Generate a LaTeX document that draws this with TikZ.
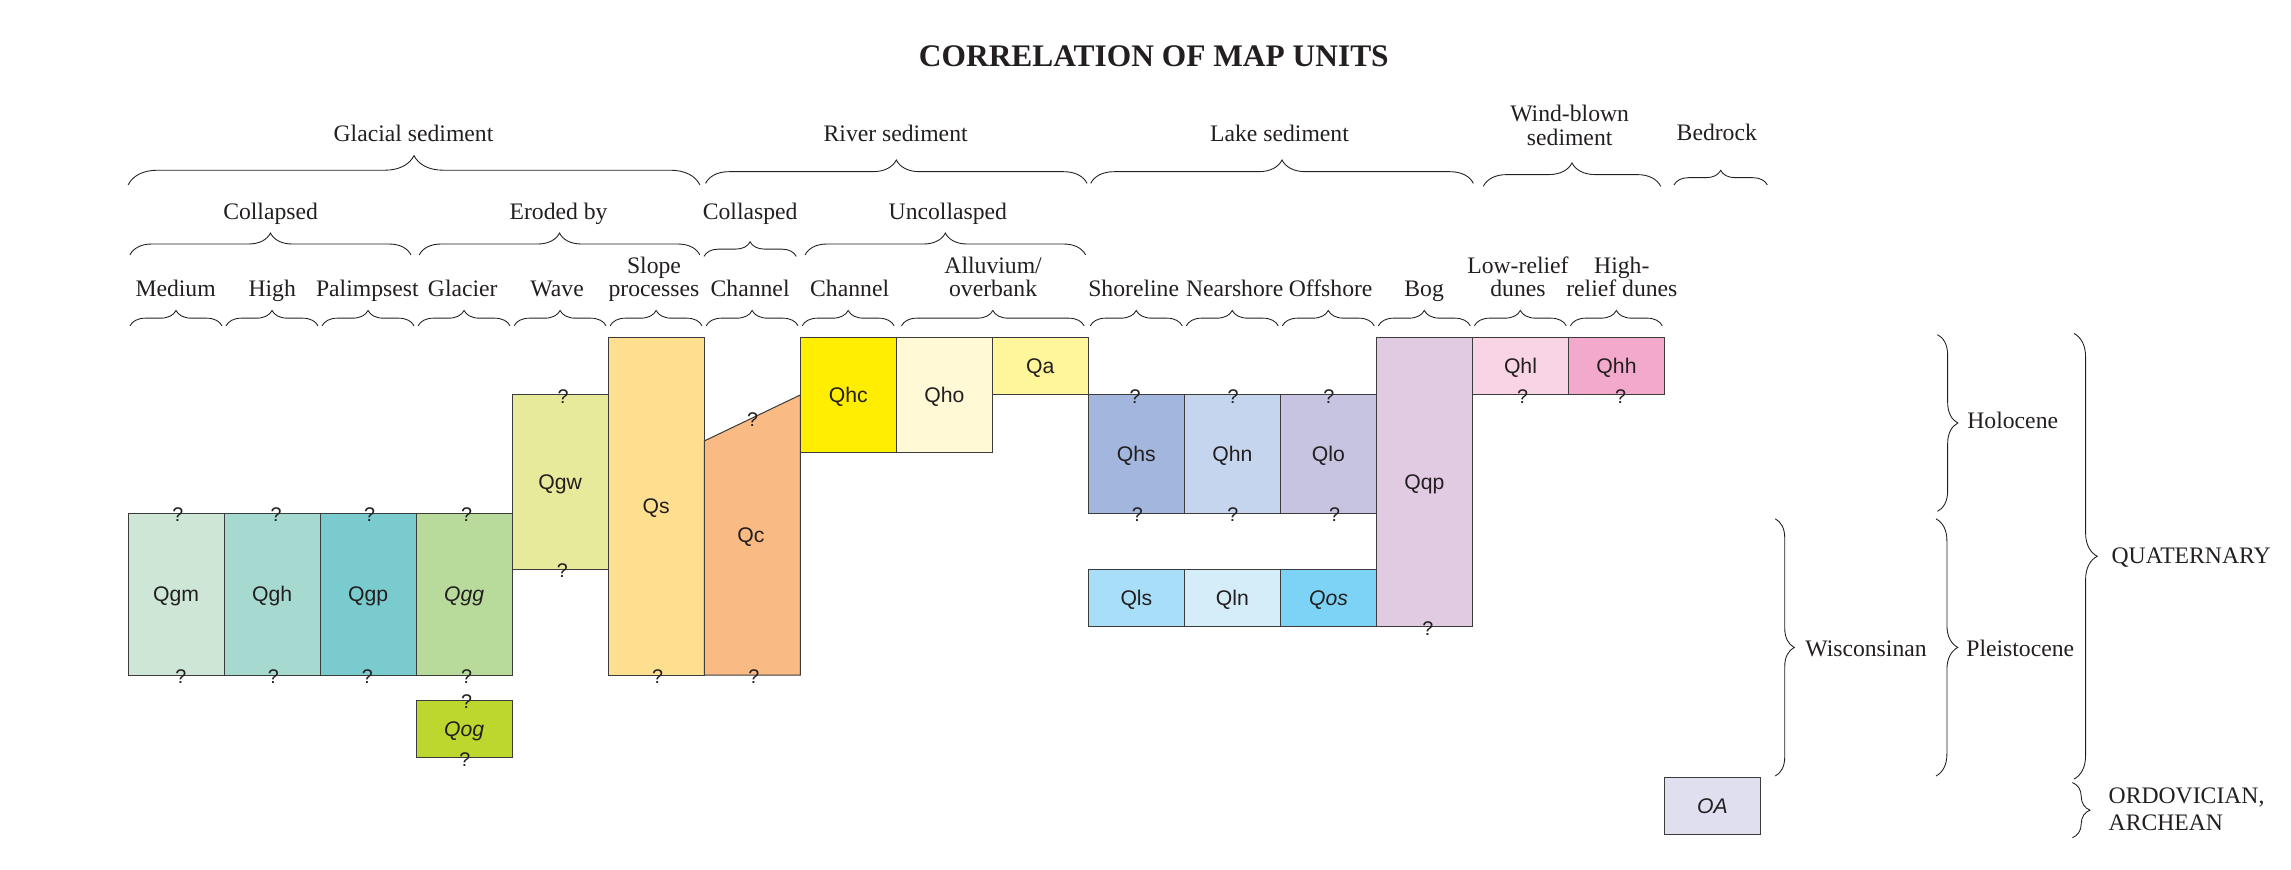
\documentclass[tikz,border=0pt]{standalone}
\usepackage{fontspec}
\setmainfont{Liberation Serif}
\newfontfamily\unitfont{Liberation Sans}
\usetikzlibrary{decorations.pathreplacing}
\definecolor{boxline}{HTML}{3C3C3C}
\definecolor{txt}{HTML}{231F20}
\definecolor{cQgm}{HTML}{CDE6D5}
\definecolor{cQgh}{HTML}{A6DAD1}
\definecolor{cQgp}{HTML}{79CBCE}
\definecolor{cQgg}{HTML}{B8DB9B}
\definecolor{cQog}{HTML}{BED72E}
\definecolor{cQgw}{HTML}{E8EA9B}
\definecolor{cQs}{HTML}{FDDF8F}
\definecolor{cQc}{HTML}{F9BA84}
\definecolor{cQhc}{HTML}{FFEE00}
\definecolor{cQho}{HTML}{FFF9D5}
\definecolor{cQa}{HTML}{FFF59B}
\definecolor{cQhs}{HTML}{A3B6DD}
\definecolor{cQhn}{HTML}{C6D5EE}
\definecolor{cQlo}{HTML}{C7C4E2}
\definecolor{cQqp}{HTML}{E0CBE2}
\definecolor{cQhl}{HTML}{F9D4E5}
\definecolor{cQhh}{HTML}{F2A9CC}
\definecolor{cQls}{HTML}{A9DEF8}
\definecolor{cQln}{HTML}{D5ECF9}
\definecolor{cQos}{HTML}{7DD3F5}
\definecolor{cOA}{HTML}{E0DFF0}
% name, column, top, bottom, fill, label
\newcommand\mapunit[6]{%
  \pgfmathsetmacro\mux{87.7+65.72*#2+32.86}%
  \pgfmathsetmacro\muy{(#3+#4)/2}%
  \pgfmathsetmacro\muh{#4-#3}%
  \node[unitbox, fill=#5, minimum height=\muh pt] (#1) at (\mux,\muy) {#6};%
}
\begin{document}
\begin{tikzpicture}[x=1pt,y=-1pt,
  unitbox/.style={draw=boxline, line width=0.7pt, minimum width=65.72pt, inner sep=0pt,
    text height=10.4pt, text depth=0pt, text=txt,
    font=\unitfont\fontsize{14.5}{16}\selectfont},
  head/.style={anchor=base, inner sep=0pt, text=txt, font=\fontsize{16.2}{17}\selectfont},
  headw/.style={anchor=base west, inner sep=0pt, text=txt, font=\fontsize{16.2}{17}\selectfont},
  qm/.style={inner sep=0pt, text=txt, font=\unitfont\fontsize{13.5}{14}\selectfont},
  brc/.style={decorate, decoration={brace, amplitude=#1}, line width=0.6pt, draw=txt},
]
\useasboundingbox (0,0) rectangle (1568,595);

% title
\node[anchor=base, inner sep=0pt, text=txt, font=\bfseries\fontsize{21.5}{22}\selectfont] (title) at (789.7,45.6) {CORRELATION OF MAP UNITS};

% ---- row 1 headings
\node[head] (h-glacial) at (283,96.5) {Glacial sediment};
\node[head] (h-river) at (613,96.5) {River sediment};
\node[head] (h-lake) at (875.7,96.5) {Lake sediment};
\node[head] (h-wind1) at (1074.3,83.3) {Wind-blown};
\node[head] (h-wind2) at (1074.3,99.7) {sediment};
\node[head] (h-bedrock) at (1175,96.3) {Bedrock};
\draw[brc=20] (87.7,126.5) -- (479,126.5);
\draw[brc=16] (482.9,125.5) -- (744,125.5);
\draw[brc=16] (746.5,125.5) -- (1008.4,125.5);
\draw[brc=16] (1015.2,127.5) -- (1136.6,127.5);
\draw[brc=10] (1145.7,126.6) -- (1209.6,126.6);

% ---- row 2 headings
\node[head] (h-coll) at (185.2,150.1) {Collapsed};
\node[head] (h-erod) at (382.3,150.1) {Eroded by};
\node[head] (h-colr) at (513.4,150.1) {Collasped};
\node[head] (h-uncol) at (648.7,150.1) {Uncollasped};
\draw[brc=15] (88.9,174.5) -- (281.3,174.5);
\draw[brc=15] (286.9,174.5) -- (479,174.5);
\draw[brc=10] (481.8,175.5) -- (545,175.5);
\draw[brc=15] (551,174.5) -- (743,174.5);

% ---- row 3 headings
\node[head] (l-medium) at (120.2,202.6) {Medium};
\node[head] (l-high) at (186.3,202.6) {High};
\node[head] (l-palim) at (251.4,202.6) {Palimpsest};
\node[head] (l-glacier) at (316.7,202.6) {Glacier};
\node[head] (l-wave) at (381.3,202.6) {Wave};
\node[head] (l-slope1) at (447.6,187.5) {Slope};
\node[head] (l-slope2) at (447.6,202.6) {processes};
\node[head] (l-chan1) at (513.4,202.6) {Channel};
\node[head] (l-chan2) at (581.5,202.6) {Channel};
\node[head] (l-allu1) at (679.7,187.5) {Alluvium/};
\node[head] (l-allu2) at (679.7,202.6) {overbank};
\node[head] (l-shore) at (775.9,202.6) {Shoreline};
\node[head] (l-near) at (845,202.6) {Nearshore};
\node[head] (l-off) at (910.7,202.6) {Offshore};
\node[head] (l-bog) at (974.7,202.6) {Bog};
\node[head] (l-low1) at (1038.9,187.5) {Low-relief};
\node[head] (l-low2) at (1038.9,202.6) {dunes};
\node[head] (l-hi1) at (1110,187.5) {High-};
\node[head] (l-hi2) at (1110,202.6) {relief dunes};
\foreach \a/\b in {87.7/153.42, 153.42/219.14, 219.14/284.86, 284.86/350.58, 350.58/416.3,
  416.3/482.02, 482.02/547.74, 547.74/613.46, 744.9/810.62, 810.62/876.34, 876.34/942.06,
  942.06/1007.78, 1007.78/1073.5, 1073.5/1139.22}
  \draw[brc=10.5] (\a+1.3,223) -- (\b-1.5,223);
\draw[brc=10.5] (617,223) -- (742,223);

% ---- map units
\mapunit{qgm}{0}{351.3}{462}{cQgm}{Qgm}
\mapunit{qgh}{1}{351.3}{462}{cQgh}{Qgh}
\mapunit{qgp}{2}{351.3}{462}{cQgp}{Qgp}
\mapunit{qgg}{3}{351.3}{462}{cQgg}{\itshape Qgg}
\mapunit{qog}{3}{479.1}{518.6}{cQog}{\itshape Qog}
\mapunit{qgw}{4}{270.3}{389.7}{cQgw}{Qgw}
\mapunit{qs}{5}{230.7}{462}{cQs}{Qs}
\filldraw[fill=cQc, draw=boxline, line width=0.7pt] (482.02,301.8) -- (547.74,270.3) -- (547.74,462) -- (482.02,462) -- cycle;
\node[inner sep=0pt, text=txt, text height=10.4pt, text depth=0pt, font=\unitfont\fontsize{14.5}{16}\selectfont] (qc) at (514,366.2) {Qc};
\mapunit{qhc}{7}{230.7}{309.6}{cQhc}{Qhc}
\mapunit{qho}{8}{230.7}{309.6}{cQho}{Qho}
\mapunit{qa}{9}{230.7}{270.3}{cQa}{Qa}
\mapunit{qhs}{10}{270.3}{351.3}{cQhs}{Qhs}
\mapunit{qhn}{11}{270.3}{351.3}{cQhn}{Qhn}
\mapunit{qlo}{12}{270.3}{351.3}{cQlo}{Qlo}
\mapunit{qls}{10}{389.7}{429.1}{cQls}{Qls}
\mapunit{qln}{11}{389.7}{429.1}{cQln}{Qln}
\mapunit{qos}{12}{389.7}{429.1}{cQos}{\itshape Qos}
\mapunit{qqp}{13}{230.7}{429.1}{cQqp}{Qqp}
\mapunit{qhl}{14}{230.7}{270.3}{cQhl}{Qhl}
\mapunit{qhh}{15}{230.7}{270.3}{cQhh}{Qhh}
\mapunit{oa}{16}{532}{571}{cOA}{\itshape OA}

% ---- question marks
\node[qm] (q1) at (121.8,352.3) {?};
\node[qm] (q2) at (123.8,463) {?};
\node[qm] (q3) at (189,352.3) {?};
\node[qm] (q4) at (187.1,463) {?};
\node[qm] (q5) at (252.9,352.3) {?};
\node[qm] (q6) at (251.5,463) {?};
\node[qm] (q7) at (319.3,352.3) {?};
\node[qm] (q8) at (319.4,463) {?};
\node[qm] (q9) at (319.4,480.1) {?};
\node[qm] (q10) at (318.1,519.6) {?};
\node[qm] (q11) at (385.4,271.3) {?};
\node[qm] (q12) at (384.8,390.7) {?};
\node[qm] (q13) at (450.1,463) {?};
\node[qm] (q14) at (515.1,287.3) {?};
\node[qm] (q15) at (516,463) {?};
\node[qm] (q16) at (776.9,271.3) {?};
\node[qm] (q17) at (778.5,352.3) {?};
\node[qm] (q18) at (844,271.3) {?};
\node[qm] (q19) at (843.7,352.3) {?};
\node[qm] (q20) at (909.5,271.3) {?};
\node[qm] (q21) at (913.5,352.3) {?};
\node[qm] (q22) at (977.3,430.1) {?};
\node[qm] (q23) at (1042.1,271.3) {?};
\node[qm] (q24) at (1109.2,271.3) {?};

% ---- time braces
\draw[brc=14] (1326,229) -- (1326,350);
\draw[brc=15] (1325,355.1) -- (1325,531.1);
\draw[brc=13] (1215,355.1) -- (1215,531.1);
\draw[brc=16] (1419.4,228.2) -- (1419.4,533.2);
\draw[brc=12] (1418.4,535.6) -- (1418.4,573.3);
\node[headw] (t-holo) at (1346.3,293.5) {Holocene};
\node[headw] (t-pleis) at (1345.6,449.2) {Pleistocene};
\node[headw] (t-wisc) at (1235.4,449.2) {Wisconsinan};
\node[headw] (t-quat) at (1445,385.9) {QUATERNARY};
\node[headw] (t-ord1) at (1443,549.8) {ORDOVICIAN,};
\node[headw] (t-ord2) at (1443,568.4) {ARCHEAN};
\end{tikzpicture}
\end{document}
